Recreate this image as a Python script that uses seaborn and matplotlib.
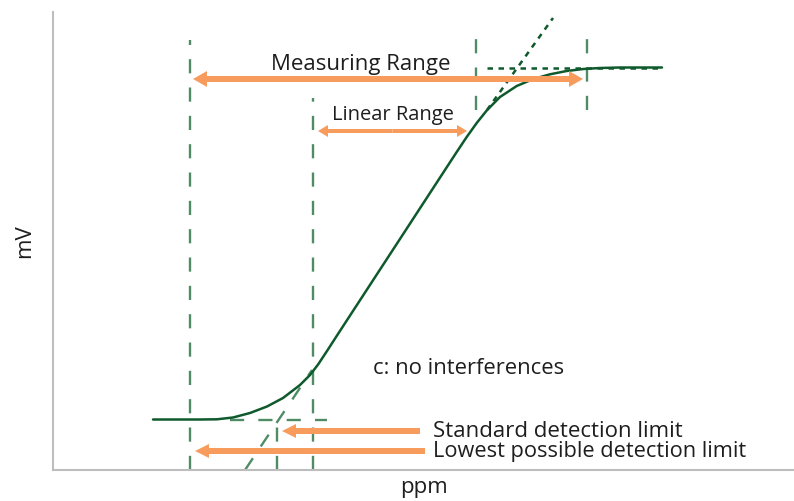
import matplotlib
matplotlib.use("Agg")
import matplotlib.pyplot as plt
import seaborn as sns
import pandas as pd

sns.set_theme(style="white")
plt.rcParams['font.family'] = ['Open Sans', 'DejaVu Sans']

# ---- data (arbitrary units: ppm axis 53..794, mV axis 0..458) ----
curve_ppm = [153, 200, 217, 233, 250, 267, 283, 300, 310, 318, 327, 337,
             456.7, 466.7, 476.7, 486.7, 500, 516.7, 533.3, 550, 566.7, 583.3,
             600, 620, 662]
curve_mv = [50.5, 50.5, 50.7, 52.5, 57, 63.5, 72, 85, 95, 105.4, 119, 134.5,
            318, 333, 347, 359.5, 373, 384, 391, 395.7, 399, 401,
            402, 402.5, 402.5]

vline_x = [190, 277, 313, 476, 587]
vline_lo = [0, 0, 0, 360, 360]
vline_hi = [430, 50, 372, 432, 432]

low_tangent_x = [245, 312]
low_tangent_y = [0, 100]
low_flat_x = [230, 327]
low_flat_y = [50, 50]

up_tangent_x = [487, 553]
up_tangent_y = [360, 452]
up_flat_x = [487, 660]
up_flat_y = [402.5, 402.5]

labels = ["Measuring Range", "Linear Range", "c: no interferences",
          "Standard detection limit", "Lowest possible detection limit"]

# arrows: (x_start, x_end, y)
measuring_arrow = (193, 583, 391)
linear_arrow = (318, 467, 339)
std_arrow = (420, 282, 39)
lowest_arrow = (425, 195, 19)

GREEN = "#0f5a2c"
LGREEN = "#4f8c66"
ORANGE = "#f89c5e"
GREY = "#bdbdbd"
TXT = "#1e1e1e"

fig = plt.figure(figsize=(7.94, 5.01), dpi=100)
ax = fig.add_axes([53 / 794, 31 / 501, 741 / 794, 458 / 501])
ax.set_xlim(53, 794)
ax.set_ylim(0, 458)

df = pd.DataFrame({"ppm": curve_ppm, "mV": curve_mv})
sns.lineplot(data=df, x="ppm", y="mV", sort=False, color=GREEN, lw=1.8, ax=ax, zorder=4)

for x, lo, hi in zip(vline_x, vline_lo, vline_hi):
    ax.plot([x, x], [lo, hi], color=LGREEN, lw=1.7, linestyle=(0, (6, 6)), zorder=2)
ax.plot(low_tangent_x, low_tangent_y, color=LGREEN, lw=1.7, linestyle=(0, (6, 6)), zorder=2)
ax.plot(low_flat_x, low_flat_y, color=LGREEN, lw=1.7, linestyle=(0, (6, 6)), zorder=2)
ax.plot(up_tangent_x, up_tangent_y, color=GREEN, lw=1.8, linestyle=(0, (2.2, 2.2)), zorder=2)
ax.plot(up_flat_x, up_flat_y, color=GREEN, lw=1.8, linestyle=(0, (2.2, 2.2)), zorder=2)


def arrow(x0, x1, y, width, hw, hl):
    ax.arrow(x0, y, x1 - x0, 0, width=width, head_width=hw, head_length=hl,
             length_includes_head=True, color=ORANGE, lw=0, zorder=5)


def double_arrow(x0, x1, y, width, hw, hl):
    mid = (x0 + x1) / 2
    arrow(mid, x0, y, width, hw, hl)
    arrow(mid, x1, y, width, hw, hl)


double_arrow(*measuring_arrow, 6, 16, 14)
double_arrow(*linear_arrow, 4, 12, 10)
arrow(*std_arrow, 6, 14, 14)
arrow(*lowest_arrow, 6, 14, 14)

ax.text(361, 406, labels[0], fontsize=16, color=TXT, ha="center", va="center")
ax.text(393, 355, labels[1], fontsize=14.5, color=TXT, ha="center", va="center")
ax.text(373, 102, labels[2], fontsize=15.8, color=TXT, ha="left", va="center")
ax.text(433, 38.5, labels[3], fontsize=16, color=TXT, ha="left", va="center")
ax.text(433, 19, labels[4], fontsize=15.7, color=TXT, ha="left", va="center")

ax.set_xticks([])
ax.set_yticks([])
ax.set_xlabel("ppm", fontsize=16, color=TXT, labelpad=5)
ax.set_ylabel("mV", fontsize=16, color=TXT, labelpad=13)
for s in ["top", "right"]:
    ax.spines[s].set_visible(False)
for s in ["left", "bottom"]:
    ax.spines[s].set_color(GREY)
    ax.spines[s].set_linewidth(1.5)

fig.savefig("out.png", dpi=100)
